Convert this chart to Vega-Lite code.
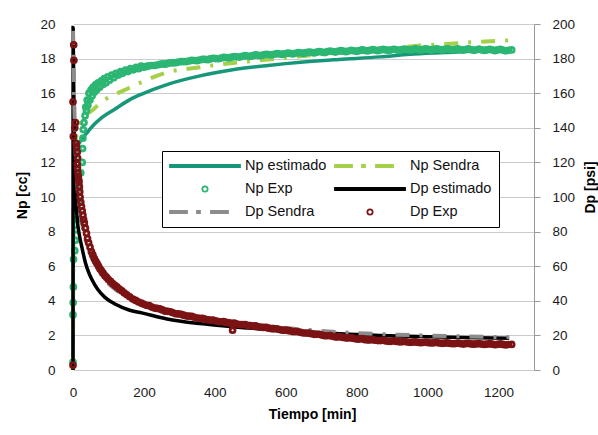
{
  "$schema": "https://vega.github.io/schema/vega-lite/v6.json",
  "width": 461,
  "height": 346,
  "autosize": "none",
  "padding": {"left": 73, "top": 24, "right": 64, "bottom": 65},
  "background": "white",
  "config": {
    "font": "Liberation Sans",
    "view": {"stroke": null},
    "axis": {
      "labelFont": "Liberation Sans", "labelFontSize": 13.5, "labelColor": "#1a1a1a", "labelOverlap": false,
      "titleFont": "Liberation Sans", "titleFontSize": 14, "titleFontWeight": "bold", "titleColor": "#000",
      "gridColor": "#cccccc", "gridWidth": 1
    }
  },
  "data": {"values": [
    {"s":"Np estimado","t":0,"v":0},{"s":"Np estimado","t":0.5,"v":4},{"s":"Np estimado","t":1,"v":6.5},{"s":"Np estimado","t":2,"v":9},{"s":"Np estimado","t":3,"v":10.5},{"s":"Np estimado","t":5,"v":11.6},{"s":"Np estimado","t":8,"v":12.3},{"s":"Np estimado","t":12,"v":12.8},{"s":"Np estimado","t":20,"v":13.2},{"s":"Np estimado","t":39,"v":13.7},{"s":"Np estimado","t":60,"v":14.2},{"s":"Np estimado","t":82,"v":14.6},{"s":"Np estimado","t":120,"v":15.1},{"s":"Np estimado","t":158,"v":15.6},{"s":"Np estimado","t":194,"v":15.95},{"s":"Np estimado","t":265,"v":16.5},{"s":"Np estimado","t":358,"v":17.0},{"s":"Np estimado","t":450,"v":17.35},{"s":"Np estimado","t":550,"v":17.6},{"s":"Np estimado","t":650,"v":17.8},{"s":"Np estimado","t":750,"v":17.95},{"s":"Np estimado","t":865,"v":18.1},{"s":"Np estimado","t":950,"v":18.25},{"s":"Np estimado","t":1050,"v":18.35},{"s":"Np estimado","t":1150,"v":18.45},{"s":"Np estimado","t":1230,"v":18.5},

    {"s":"Np Sendra","t":0,"v":0},{"s":"Np Sendra","t":1,"v":7},{"s":"Np Sendra","t":2,"v":10},{"s":"Np Sendra","t":3,"v":11.5},{"s":"Np Sendra","t":5,"v":12.5},{"s":"Np Sendra","t":8,"v":13.3},{"s":"Np Sendra","t":12,"v":13.8},{"s":"Np Sendra","t":20,"v":14.3},{"s":"Np Sendra","t":39,"v":14.8},{"s":"Np Sendra","t":54,"v":15.0},{"s":"Np Sendra","t":80,"v":15.5},{"s":"Np Sendra","t":110,"v":15.85},{"s":"Np Sendra","t":158,"v":16.3},{"s":"Np Sendra","t":189,"v":16.6},{"s":"Np Sendra","t":265,"v":17.2},{"s":"Np Sendra","t":358,"v":17.5},{"s":"Np Sendra","t":450,"v":17.75},{"s":"Np Sendra","t":550,"v":17.95},{"s":"Np Sendra","t":650,"v":18.15},{"s":"Np Sendra","t":750,"v":18.35},{"s":"Np Sendra","t":850,"v":18.5},{"s":"Np Sendra","t":950,"v":18.7},{"s":"Np Sendra","t":1054,"v":18.85},{"s":"Np Sendra","t":1150,"v":18.97},{"s":"Np Sendra","t":1230,"v":19.05},

    {"s":"Np Exp","t":0,"v":0.46},{"s":"Np Exp","t":0,"v":3.2},{"s":"Np Exp","t":0.5,"v":3.9},{"s":"Np Exp","t":1,"v":4.8},{"s":"Np Exp","t":1.5,"v":6.4},{"s":"Np Exp","t":5,"v":6.9},{"s":"Np Exp","t":7,"v":7.5},{"s":"Np Exp","t":9,"v":8.1},{"s":"Np Exp","t":11,"v":8.7},{"s":"Np Exp","t":13,"v":9.3},{"s":"Np Exp","t":15,"v":9.8},{"s":"Np Exp","t":18,"v":10.5},{"s":"Np Exp","t":22,"v":11.4},{"s":"Np Exp","t":26,"v":12.0},{"s":"Np Exp","t":27,"v":12.8},{"s":"Np Exp","t":28,"v":13.4},{"s":"Np Exp","t":29,"v":13.9},{"s":"Np Exp","t":31,"v":14.3},{"s":"Np Exp","t":34,"v":14.7},{"s":"Np Exp","t":36,"v":15.2},{"s":"Np Exp","t":38,"v":15.0},{"s":"Np Exp","t":40,"v":15.6},{"s":"Np Exp","t":42,"v":15.3},{"s":"Np Exp","t":45,"v":16.0},{"s":"Np Exp","t":48,"v":15.6},{"s":"Np Exp","t":51,"v":16.2},{"s":"Np Exp","t":54,"v":15.85},{"s":"Np Exp","t":57,"v":16.35},{"s":"Np Exp","t":60,"v":16.05},{"s":"Np Exp","t":64,"v":16.5},{"s":"Np Exp","t":67,"v":16.2},{"s":"Np Exp","t":71,"v":16.6},{"s":"Np Exp","t":75,"v":16.35},{"s":"Np Exp","t":80,"v":16.72},{"s":"Np Exp","t":84,"v":16.5},{"s":"Np Exp","t":88,"v":16.85},{"s":"Np Exp","t":93,"v":16.6},{"s":"Np Exp","t":98,"v":16.95},{"s":"Np Exp","t":103,"v":16.75},{"s":"Np Exp","t":109,"v":17.05},{"s":"Np Exp","t":115,"v":16.9},{"s":"Np Exp","t":121,"v":17.15},{"s":"Np Exp","t":128,"v":17.05},{"s":"Np Exp","t":134,"v":17.25},{"s":"Np Exp","t":140,"v":17.15},{"s":"Np Exp","t":148,"v":17.33},{"s":"Np Exp","t":155,"v":17.25},{"s":"Np Exp","t":162,"v":17.42},{"s":"Np Exp","t":170,"v":17.35},{"s":"Np Exp","t":178,"v":17.5},{"s":"Np Exp","t":185,"v":17.42},{"s":"Np Exp","t":192,"v":17.56},{"s":"Np Exp","t":200,"v":17.5},{"s":"Np Exp","t":215,"v":17.58},{"s":"Np Exp","t":230,"v":17.6},{"s":"Np Exp","t":245,"v":17.67},{"s":"Np Exp","t":260,"v":17.68},{"s":"Np Exp","t":275,"v":17.76},{"s":"Np Exp","t":290,"v":17.76},{"s":"Np Exp","t":305,"v":17.83},{"s":"Np Exp","t":320,"v":17.83},{"s":"Np Exp","t":335,"v":17.9},{"s":"Np Exp","t":350,"v":17.88},{"s":"Np Exp","t":365,"v":17.96},{"s":"Np Exp","t":380,"v":17.94},{"s":"Np Exp","t":395,"v":18.02},{"s":"Np Exp","t":410,"v":17.99},{"s":"Np Exp","t":425,"v":18.07},{"s":"Np Exp","t":440,"v":18.04},{"s":"Np Exp","t":455,"v":18.12},{"s":"Np Exp","t":470,"v":18.09},{"s":"Np Exp","t":485,"v":18.17},{"s":"Np Exp","t":500,"v":18.13},{"s":"Np Exp","t":515,"v":18.21},{"s":"Np Exp","t":530,"v":18.17},{"s":"Np Exp","t":545,"v":18.25},{"s":"Np Exp","t":560,"v":18.21},{"s":"Np Exp","t":575,"v":18.29},{"s":"Np Exp","t":590,"v":18.24},{"s":"Np Exp","t":605,"v":18.32},{"s":"Np Exp","t":620,"v":18.27},{"s":"Np Exp","t":635,"v":18.35},{"s":"Np Exp","t":650,"v":18.3},{"s":"Np Exp","t":665,"v":18.38},{"s":"Np Exp","t":680,"v":18.33},{"s":"Np Exp","t":695,"v":18.41},{"s":"Np Exp","t":710,"v":18.35},{"s":"Np Exp","t":725,"v":18.44},{"s":"Np Exp","t":740,"v":18.38},{"s":"Np Exp","t":755,"v":18.46},{"s":"Np Exp","t":770,"v":18.4},{"s":"Np Exp","t":785,"v":18.48},{"s":"Np Exp","t":800,"v":18.42},{"s":"Np Exp","t":815,"v":18.5},{"s":"Np Exp","t":830,"v":18.44},{"s":"Np Exp","t":845,"v":18.52},{"s":"Np Exp","t":860,"v":18.46},{"s":"Np Exp","t":875,"v":18.53},{"s":"Np Exp","t":890,"v":18.47},{"s":"Np Exp","t":905,"v":18.54},{"s":"Np Exp","t":920,"v":18.48},{"s":"Np Exp","t":935,"v":18.55},{"s":"Np Exp","t":950,"v":18.49},{"s":"Np Exp","t":965,"v":18.56},{"s":"Np Exp","t":980,"v":18.5},{"s":"Np Exp","t":995,"v":18.57},{"s":"Np Exp","t":1010,"v":18.5},{"s":"Np Exp","t":1025,"v":18.57},{"s":"Np Exp","t":1040,"v":18.5},{"s":"Np Exp","t":1055,"v":18.57},{"s":"Np Exp","t":1070,"v":18.5},{"s":"Np Exp","t":1085,"v":18.56},{"s":"Np Exp","t":1100,"v":18.49},{"s":"Np Exp","t":1115,"v":18.56},{"s":"Np Exp","t":1130,"v":18.48},{"s":"Np Exp","t":1145,"v":18.55},{"s":"Np Exp","t":1160,"v":18.47},{"s":"Np Exp","t":1175,"v":18.54},{"s":"Np Exp","t":1190,"v":18.46},{"s":"Np Exp","t":1205,"v":18.53},{"s":"Np Exp","t":1220,"v":18.45},{"s":"Np Exp","t":1237,"v":18.5},
    {"s":"Np Exp","t":207,"v":17.55},{"s":"Np Exp","t":222,"v":17.6},{"s":"Np Exp","t":237,"v":17.63},{"s":"Np Exp","t":252,"v":17.69},{"s":"Np Exp","t":267,"v":17.72},{"s":"Np Exp","t":282,"v":17.75},{"s":"Np Exp","t":297,"v":17.8},{"s":"Np Exp","t":312,"v":17.82},{"s":"Np Exp","t":327,"v":17.86},{"s":"Np Exp","t":342,"v":17.89},{"s":"Np Exp","t":357,"v":17.92},{"s":"Np Exp","t":372,"v":17.95},{"s":"Np Exp","t":387,"v":17.98},{"s":"Np Exp","t":402,"v":18.0},{"s":"Np Exp","t":417,"v":18.03},{"s":"Np Exp","t":432,"v":18.06},{"s":"Np Exp","t":447,"v":18.08},{"s":"Np Exp","t":462,"v":18.1},{"s":"Np Exp","t":477,"v":18.13},{"s":"Np Exp","t":492,"v":18.15},{"s":"Np Exp","t":507,"v":18.17},{"s":"Np Exp","t":522,"v":18.19},{"s":"Np Exp","t":537,"v":18.21},{"s":"Np Exp","t":552,"v":18.23},{"s":"Np Exp","t":567,"v":18.25},{"s":"Np Exp","t":582,"v":18.27},{"s":"Np Exp","t":597,"v":18.28},{"s":"Np Exp","t":612,"v":18.3},{"s":"Np Exp","t":627,"v":18.31},{"s":"Np Exp","t":642,"v":18.33},{"s":"Np Exp","t":657,"v":18.34},{"s":"Np Exp","t":672,"v":18.36},{"s":"Np Exp","t":687,"v":18.37},{"s":"Np Exp","t":702,"v":18.38},{"s":"Np Exp","t":717,"v":18.4},{"s":"Np Exp","t":732,"v":18.41},{"s":"Np Exp","t":747,"v":18.42},{"s":"Np Exp","t":762,"v":18.43},{"s":"Np Exp","t":777,"v":18.44},{"s":"Np Exp","t":792,"v":18.45},{"s":"Np Exp","t":807,"v":18.46},{"s":"Np Exp","t":822,"v":18.47},{"s":"Np Exp","t":837,"v":18.48},{"s":"Np Exp","t":852,"v":18.49},{"s":"Np Exp","t":867,"v":18.5},{"s":"Np Exp","t":882,"v":18.5},{"s":"Np Exp","t":897,"v":18.51},{"s":"Np Exp","t":912,"v":18.51},{"s":"Np Exp","t":927,"v":18.52},{"s":"Np Exp","t":942,"v":18.52},{"s":"Np Exp","t":957,"v":18.52},{"s":"Np Exp","t":972,"v":18.53},{"s":"Np Exp","t":987,"v":18.53},{"s":"Np Exp","t":1002,"v":18.53},{"s":"Np Exp","t":1017,"v":18.53},{"s":"Np Exp","t":1032,"v":18.54},{"s":"Np Exp","t":1047,"v":18.53},{"s":"Np Exp","t":1062,"v":18.53},{"s":"Np Exp","t":1077,"v":18.53},{"s":"Np Exp","t":1092,"v":18.52},{"s":"Np Exp","t":1107,"v":18.52},{"s":"Np Exp","t":1122,"v":18.52},{"s":"Np Exp","t":1137,"v":18.51},{"s":"Np Exp","t":1152,"v":18.51},{"s":"Np Exp","t":1167,"v":18.5},{"s":"Np Exp","t":1182,"v":18.5},{"s":"Np Exp","t":1197,"v":18.5},{"s":"Np Exp","t":1212,"v":18.49},{"s":"Np Exp","t":1228,"v":18.48},

    {"s":"Dp estimado","t":0,"v":0},{"s":"Dp estimado","t":0.3,"v":198},{"s":"Dp estimado","t":1,"v":185},{"s":"Dp estimado","t":2,"v":165},{"s":"Dp estimado","t":3,"v":148},{"s":"Dp estimado","t":5,"v":122},{"s":"Dp estimado","t":8,"v":100},{"s":"Dp estimado","t":12,"v":87},{"s":"Dp estimado","t":18,"v":78},{"s":"Dp estimado","t":25,"v":71},{"s":"Dp estimado","t":35,"v":62},{"s":"Dp estimado","t":45,"v":56},{"s":"Dp estimado","t":54,"v":52},{"s":"Dp estimado","t":70,"v":46.5},{"s":"Dp estimado","t":90,"v":42},{"s":"Dp estimado","t":120,"v":38},{"s":"Dp estimado","t":158,"v":34.7},{"s":"Dp estimado","t":194,"v":33},{"s":"Dp estimado","t":265,"v":29.5},{"s":"Dp estimado","t":358,"v":26.8},{"s":"Dp estimado","t":450,"v":25},{"s":"Dp estimado","t":580,"v":23},{"s":"Dp estimado","t":700,"v":21.5},{"s":"Dp estimado","t":865,"v":20},{"s":"Dp estimado","t":1000,"v":19.2},{"s":"Dp estimado","t":1100,"v":18.8},{"s":"Dp estimado","t":1230,"v":18.4},

    {"s":"Dp Sendra","t":0,"v":196},{"s":"Dp Sendra","t":1,"v":188},{"s":"Dp Sendra","t":2,"v":172},{"s":"Dp Sendra","t":4,"v":150},{"s":"Dp Sendra","t":6,"v":135},{"s":"Dp Sendra","t":10,"v":115},{"s":"Dp Sendra","t":15,"v":100},{"s":"Dp Sendra","t":20,"v":92},{"s":"Dp Sendra","t":30,"v":80},{"s":"Dp Sendra","t":40,"v":72},{"s":"Dp Sendra","t":55,"v":64},{"s":"Dp Sendra","t":75,"v":56.5},{"s":"Dp Sendra","t":100,"v":50},{"s":"Dp Sendra","t":130,"v":45},{"s":"Dp Sendra","t":169,"v":40.5},{"s":"Dp Sendra","t":220,"v":36.5},{"s":"Dp Sendra","t":300,"v":32.5},{"s":"Dp Sendra","t":400,"v":29},{"s":"Dp Sendra","t":500,"v":26.5},{"s":"Dp Sendra","t":600,"v":24.3},{"s":"Dp Sendra","t":700,"v":22.5},{"s":"Dp Sendra","t":800,"v":21.3},{"s":"Dp Sendra","t":900,"v":20.5},{"s":"Dp Sendra","t":1000,"v":19.9},{"s":"Dp Sendra","t":1100,"v":19.4},{"s":"Dp Sendra","t":1230,"v":19.0},

    {"s":"Dp Exp","t":0,"v":2.8},{"s":"Dp Exp","t":0,"v":155},{"s":"Dp Exp","t":1,"v":135},{"s":"Dp Exp","t":2,"v":188},{"s":"Dp Exp","t":2.5,"v":179},{"s":"Dp Exp","t":5,"v":140},{"s":"Dp Exp","t":7,"v":143},{"s":"Dp Exp","t":9,"v":131},{"s":"Dp Exp","t":10,"v":129},{"s":"Dp Exp","t":12,"v":126},{"s":"Dp Exp","t":13,"v":122.5},{"s":"Dp Exp","t":12,"v":119},{"s":"Dp Exp","t":12.5,"v":116.7},{"s":"Dp Exp","t":14,"v":114},{"s":"Dp Exp","t":15,"v":112},{"s":"Dp Exp","t":16,"v":110},{"s":"Dp Exp","t":17,"v":108.7},{"s":"Dp Exp","t":18,"v":106},{"s":"Dp Exp","t":19,"v":103},{"s":"Dp Exp","t":20,"v":100},{"s":"Dp Exp","t":22,"v":97},{"s":"Dp Exp","t":24,"v":94.5},{"s":"Dp Exp","t":26,"v":92},{"s":"Dp Exp","t":28,"v":89.5},{"s":"Dp Exp","t":30,"v":87},{"s":"Dp Exp","t":32,"v":85},{"s":"Dp Exp","t":35,"v":82},{"s":"Dp Exp","t":38,"v":79},{"s":"Dp Exp","t":41,"v":76},{"s":"Dp Exp","t":44,"v":73.5},{"s":"Dp Exp","t":48,"v":71},{"s":"Dp Exp","t":52,"v":68.5},{"s":"Dp Exp","t":56,"v":66.5},{"s":"Dp Exp","t":60,"v":64.5},{"s":"Dp Exp","t":64,"v":63},{"s":"Dp Exp","t":68,"v":61.5},{"s":"Dp Exp","t":72,"v":60},{"s":"Dp Exp","t":76,"v":58.5},{"s":"Dp Exp","t":80,"v":57.5},{"s":"Dp Exp","t":85,"v":56},{"s":"Dp Exp","t":90,"v":54.5},{"s":"Dp Exp","t":95,"v":53.5},{"s":"Dp Exp","t":100,"v":52.3},{"s":"Dp Exp","t":106,"v":51.2},{"s":"Dp Exp","t":112,"v":50},{"s":"Dp Exp","t":118,"v":49},{"s":"Dp Exp","t":124,"v":48},{"s":"Dp Exp","t":131,"v":46.8},{"s":"Dp Exp","t":138,"v":45.7},{"s":"Dp Exp","t":145,"v":44.5},{"s":"Dp Exp","t":152,"v":43.5},{"s":"Dp Exp","t":160,"v":42.3},{"s":"Dp Exp","t":169,"v":41},{"s":"Dp Exp","t":177,"v":40.2},{"s":"Dp Exp","t":185,"v":39.3},{"s":"Dp Exp","t":193,"v":38.6},{"s":"Dp Exp","t":200,"v":38.0},{"s":"Dp Exp","t":215,"v":37.2},{"s":"Dp Exp","t":230,"v":35.8},{"s":"Dp Exp","t":245,"v":35.3},{"s":"Dp Exp","t":260,"v":34.0},{"s":"Dp Exp","t":275,"v":33.6},{"s":"Dp Exp","t":290,"v":32.5},{"s":"Dp Exp","t":305,"v":32.2},{"s":"Dp Exp","t":320,"v":31.2},{"s":"Dp Exp","t":335,"v":31.0},{"s":"Dp Exp","t":350,"v":30.0},{"s":"Dp Exp","t":365,"v":29.9},{"s":"Dp Exp","t":380,"v":29.0},{"s":"Dp Exp","t":395,"v":28.9},{"s":"Dp Exp","t":410,"v":28.0},{"s":"Dp Exp","t":425,"v":28.0},{"s":"Dp Exp","t":440,"v":27.2},{"s":"Dp Exp","t":450,"v":23.0},{"s":"Dp Exp","t":455,"v":27.1},{"s":"Dp Exp","t":470,"v":26.3},{"s":"Dp Exp","t":485,"v":26.3},{"s":"Dp Exp","t":500,"v":25.6},{"s":"Dp Exp","t":515,"v":25.5},{"s":"Dp Exp","t":530,"v":24.7},{"s":"Dp Exp","t":545,"v":24.6},{"s":"Dp Exp","t":560,"v":23.9},{"s":"Dp Exp","t":575,"v":23.8},{"s":"Dp Exp","t":590,"v":23.0},{"s":"Dp Exp","t":605,"v":22.9},{"s":"Dp Exp","t":620,"v":22.2},{"s":"Dp Exp","t":635,"v":22.1},{"s":"Dp Exp","t":650,"v":21.4},{"s":"Dp Exp","t":665,"v":21.3},{"s":"Dp Exp","t":680,"v":20.6},{"s":"Dp Exp","t":695,"v":20.6},{"s":"Dp Exp","t":710,"v":19.8},{"s":"Dp Exp","t":725,"v":19.9},{"s":"Dp Exp","t":740,"v":19.1},{"s":"Dp Exp","t":755,"v":19.2},{"s":"Dp Exp","t":770,"v":18.5},{"s":"Dp Exp","t":785,"v":18.6},{"s":"Dp Exp","t":800,"v":17.9},{"s":"Dp Exp","t":815,"v":18.1},{"s":"Dp Exp","t":830,"v":17.4},{"s":"Dp Exp","t":845,"v":17.6},{"s":"Dp Exp","t":860,"v":17.0},{"s":"Dp Exp","t":875,"v":17.2},{"s":"Dp Exp","t":890,"v":16.6},{"s":"Dp Exp","t":905,"v":16.9},{"s":"Dp Exp","t":920,"v":16.3},{"s":"Dp Exp","t":935,"v":16.6},{"s":"Dp Exp","t":950,"v":16.0},{"s":"Dp Exp","t":965,"v":16.3},{"s":"Dp Exp","t":980,"v":15.8},{"s":"Dp Exp","t":995,"v":16.1},{"s":"Dp Exp","t":1010,"v":15.6},{"s":"Dp Exp","t":1025,"v":15.9},{"s":"Dp Exp","t":1040,"v":15.4},{"s":"Dp Exp","t":1055,"v":15.7},{"s":"Dp Exp","t":1070,"v":15.2},{"s":"Dp Exp","t":1085,"v":15.5},{"s":"Dp Exp","t":1100,"v":15.0},{"s":"Dp Exp","t":1115,"v":15.4},{"s":"Dp Exp","t":1130,"v":14.9},{"s":"Dp Exp","t":1145,"v":15.3},{"s":"Dp Exp","t":1160,"v":14.8},{"s":"Dp Exp","t":1175,"v":15.2},{"s":"Dp Exp","t":1190,"v":14.6},{"s":"Dp Exp","t":1205,"v":15.1},{"s":"Dp Exp","t":1220,"v":14.5},{"s":"Dp Exp","t":1237,"v":14.8},
    {"s":"Dp Exp","t":207,"v":37.4},{"s":"Dp Exp","t":222,"v":36.4},{"s":"Dp Exp","t":237,"v":35.6},{"s":"Dp Exp","t":252,"v":34.7},{"s":"Dp Exp","t":267,"v":33.9},{"s":"Dp Exp","t":282,"v":33.1},{"s":"Dp Exp","t":297,"v":32.4},{"s":"Dp Exp","t":312,"v":31.7},{"s":"Dp Exp","t":327,"v":31.1},{"s":"Dp Exp","t":342,"v":30.5},{"s":"Dp Exp","t":357,"v":29.9},{"s":"Dp Exp","t":372,"v":29.4},{"s":"Dp Exp","t":387,"v":28.9},{"s":"Dp Exp","t":402,"v":28.4},{"s":"Dp Exp","t":417,"v":27.9},{"s":"Dp Exp","t":432,"v":27.5},{"s":"Dp Exp","t":447,"v":27.0},{"s":"Dp Exp","t":462,"v":26.6},{"s":"Dp Exp","t":477,"v":26.2},{"s":"Dp Exp","t":492,"v":25.8},{"s":"Dp Exp","t":507,"v":25.4},{"s":"Dp Exp","t":522,"v":25.0},{"s":"Dp Exp","t":537,"v":24.6},{"s":"Dp Exp","t":552,"v":24.2},{"s":"Dp Exp","t":567,"v":23.8},{"s":"Dp Exp","t":582,"v":23.4},{"s":"Dp Exp","t":597,"v":23.0},{"s":"Dp Exp","t":612,"v":22.6},{"s":"Dp Exp","t":627,"v":22.2},{"s":"Dp Exp","t":642,"v":21.8},{"s":"Dp Exp","t":657,"v":21.4},{"s":"Dp Exp","t":672,"v":21.0},{"s":"Dp Exp","t":687,"v":20.6},{"s":"Dp Exp","t":702,"v":20.2},{"s":"Dp Exp","t":717,"v":19.8},{"s":"Dp Exp","t":732,"v":19.5},{"s":"Dp Exp","t":747,"v":19.1},{"s":"Dp Exp","t":762,"v":18.8},{"s":"Dp Exp","t":777,"v":18.5},{"s":"Dp Exp","t":792,"v":18.2},{"s":"Dp Exp","t":807,"v":17.9},{"s":"Dp Exp","t":822,"v":17.6},{"s":"Dp Exp","t":837,"v":17.4},{"s":"Dp Exp","t":852,"v":17.2},{"s":"Dp Exp","t":867,"v":17.0},{"s":"Dp Exp","t":882,"v":16.8},{"s":"Dp Exp","t":897,"v":16.6},{"s":"Dp Exp","t":912,"v":16.5},{"s":"Dp Exp","t":927,"v":16.3},{"s":"Dp Exp","t":942,"v":16.2},{"s":"Dp Exp","t":957,"v":16.1},{"s":"Dp Exp","t":972,"v":16.0},{"s":"Dp Exp","t":987,"v":15.9},{"s":"Dp Exp","t":1002,"v":15.8},{"s":"Dp Exp","t":1017,"v":15.7},{"s":"Dp Exp","t":1032,"v":15.6},{"s":"Dp Exp","t":1047,"v":15.5},{"s":"Dp Exp","t":1062,"v":15.4},{"s":"Dp Exp","t":1077,"v":15.3},{"s":"Dp Exp","t":1092,"v":15.25},{"s":"Dp Exp","t":1107,"v":15.2},{"s":"Dp Exp","t":1122,"v":15.1},{"s":"Dp Exp","t":1137,"v":15.05},{"s":"Dp Exp","t":1152,"v":15.0},{"s":"Dp Exp","t":1167,"v":14.95},{"s":"Dp Exp","t":1182,"v":14.9},{"s":"Dp Exp","t":1197,"v":14.85},{"s":"Dp Exp","t":1212,"v":14.8},{"s":"Dp Exp","t":1228,"v":14.75}
  ]},
  "resolve": {"scale": {"y": "independent"}},
  "layer": [
    {
      "layer": [
        {
          "transform": [{"filter": "datum.s === 'Np estimado'"}],
          "mark": {"type": "line", "strokeWidth": 3.5, "interpolate": "monotone"},
          "encoding": {
            "x": {"field": "t", "type": "quantitative", "scale": {"domain": [0, 1300], "nice": false},
                  "axis": {"title": "Tiempo [min]", "values": [0,200,400,600,800,1000,1200], "tickCount": 7, "format": "d", "grid": false, "ticks": false, "tickSize": 0, "domain": false, "labelPadding": 15, "labelFlush": false, "titleX": 239, "titleY": 44, "titleBaseline": "middle", "titleAlign": "center", "titleAnchor": null}},
            "y": {"field": "v", "type": "quantitative", "scale": {"domain": [0, 20], "nice": false},
                  "axis": {"title": "Np [cc]", "orient": "left", "values": [0,2,4,6,8,10,12,14,16,18,20], "tickCount": 11, "grid": true, "ticks": false, "tickSize": 0, "domain": false, "labelPadding": 18, "titleX": -51, "titleY": 171, "titleAngle": 270, "titleBaseline": "middle", "titleAlign": "center"}},
            "color": {"field": "s", "type": "nominal",
              "scale": {"domain": ["Np estimado","Np Sendra","Np Exp","Dp estimado","Dp Sendra","Dp Exp"], "range": ["#17977a","#a4d04a","#2bb673","#000000","#8c8c8c","#7b1315"]},
              "legend": {
                "orient": "none", "legendX": 89, "legendY": 127, "columns": 2, "direction": "horizontal", "title": null,
                "symbolSize": 4900, "symbolOffset": 0, "labelOffset": 4, "clipHeight": 16,
                "columnPadding": 7, "rowPadding": 7, "padding": 7,
                "fillColor": "white", "strokeColor": "black",
                "labelFont": "Liberation Sans", "labelFontSize": 14.5, "labelColor": "#111",
                "symbolType": "stroke", "symbolStrokeWidth": 1.8,
                "encode": {"symbols": {"update": {
                  "shape": {"signal": "datum.value == 'Np Exp' || datum.value == 'Dp Exp' ? 'M-0.075,0A0.075,0.075,0,1,1,0.075,0A0.075,0.075,0,1,1,-0.075,0Z' : (datum.value == 'Np Sendra' || datum.value == 'Dp Sendra' ? 'M-1,-0.03H-0.514V0.03H-1Z M-0.229,-0.03H-0.143V0.03H-0.229Z M0.171,-0.03H0.657V0.03H0.171Z' : 'M-1,-0.03H1V0.03H-1Z')"},
                  "stroke": {"signal": "scale('color', datum.value)"},
                  "fill": {"signal": "datum.value == 'Np Exp' || datum.value == 'Dp Exp' ? 'transparent' : scale('color', datum.value)"},
                  "opacity": {"value": 1}
                }}}
              }}
          }
        },
        {
          "transform": [{"filter": "datum.s === 'Np Sendra'"}],
          "mark": {"type": "line", "strokeWidth": 4, "strokeDash": [14,10,3,10], "interpolate": "monotone"},
          "encoding": {
            "x": {"field": "t", "type": "quantitative"},
            "y": {"field": "v", "type": "quantitative"},
            "color": {"field": "s", "type": "nominal"}
          }
        },
        {
          "transform": [{"filter": "datum.s === 'Np Exp'"}],
          "mark": {"type": "point", "filled": false, "size": 24, "strokeWidth": 2.8, "opacity": 1},
          "encoding": {
            "x": {"field": "t", "type": "quantitative"},
            "y": {"field": "v", "type": "quantitative"},
            "color": {"field": "s", "type": "nominal"}
          }
        }
      ]
    },
    {
      "layer": [
        {
          "transform": [{"filter": "datum.s === 'Dp estimado'"}],
          "mark": {"type": "line", "strokeWidth": 3.5, "interpolate": "monotone"},
          "encoding": {
            "x": {"field": "t", "type": "quantitative"},
            "y": {"field": "v", "type": "quantitative", "scale": {"domain": [0, 200], "nice": false},
                  "axis": {"title": "Dp [psi]", "orient": "right", "values": [0,20,40,60,80,100,120,140,160,180,200], "tickCount": 11, "grid": false, "ticks": true, "tickSize": 6, "tickColor": "#999", "domain": true, "domainColor": "#999", "labelPadding": 12, "titleX": 56, "titleY": 163, "titleAngle": 270, "titleBaseline": "middle", "titleAlign": "center"}},
            "color": {"field": "s", "type": "nominal"}
          }
        },
        {
          "transform": [{"filter": "datum.s === 'Dp Sendra'"}],
          "mark": {"type": "line", "strokeWidth": 4, "strokeDash": [14,10,3,10], "interpolate": "monotone"},
          "encoding": {
            "x": {"field": "t", "type": "quantitative"},
            "y": {"field": "v", "type": "quantitative"},
            "color": {"field": "s", "type": "nominal"}
          }
        },
        {
          "transform": [{"filter": "datum.s === 'Dp Exp'"}],
          "mark": {"type": "point", "filled": false, "size": 24, "strokeWidth": 2.8, "opacity": 1},
          "encoding": {
            "x": {"field": "t", "type": "quantitative"},
            "y": {"field": "v", "type": "quantitative"},
            "color": {"field": "s", "type": "nominal"}
          }
        }
      ]
    }
  ]
}
